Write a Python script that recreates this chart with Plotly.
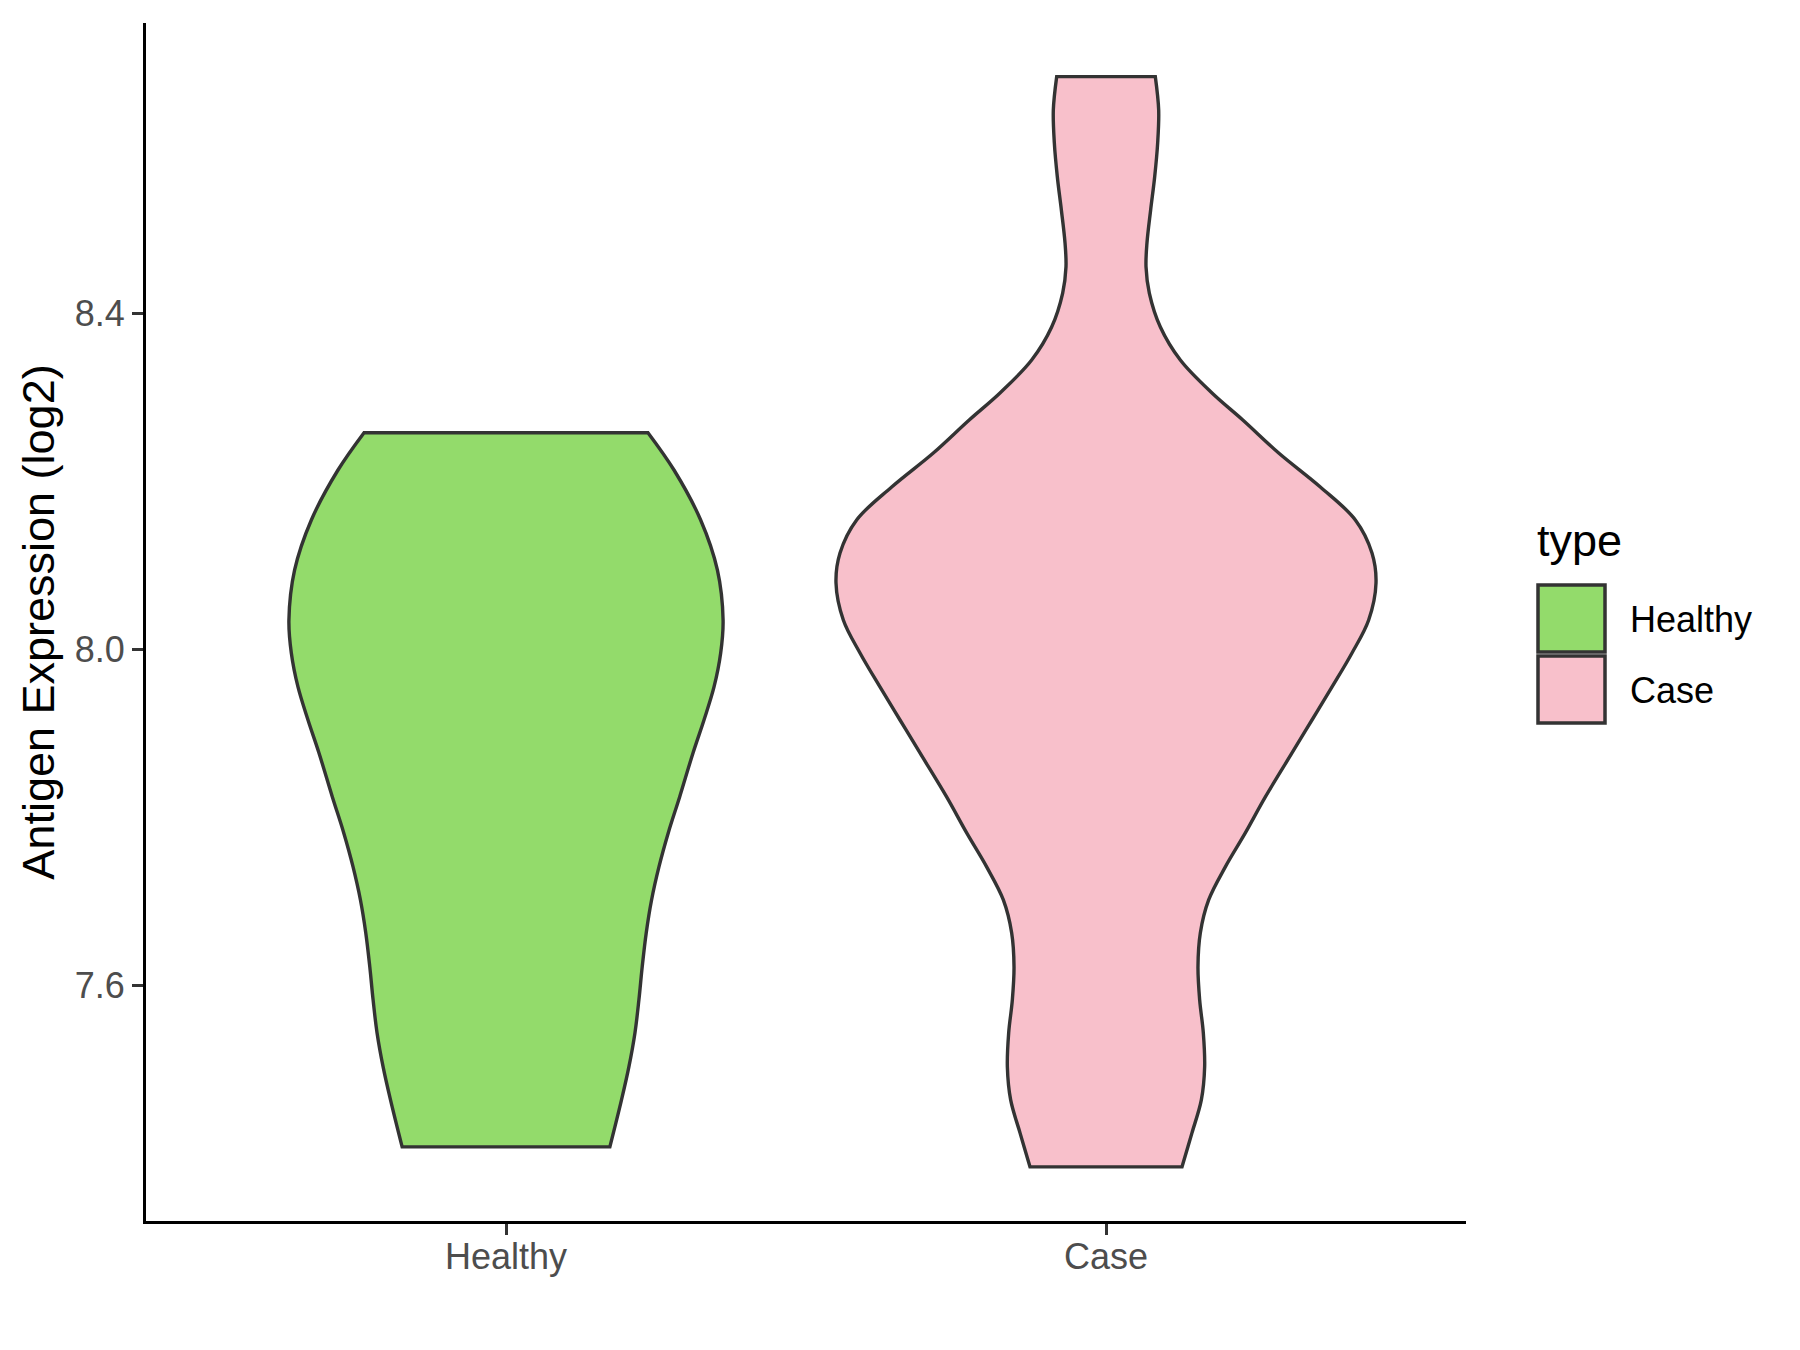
import plotly.graph_objects as go

# ---- data ----
categories = ["Healthy", "Case"]
positions = [1, 2]
fill_colors = ["#93DB6B", "#F8C0CB"]

# Healthy violin: expression level (log2) and half-width of the density outline
healthy_y = [7.4083, 7.4642, 7.5034, 7.5439, 7.5831, 7.6224, 7.6628, 7.7020, 7.7413, 7.7817,
             7.8245, 7.8768, 7.9160, 7.9553, 7.9957, 8.0350, 8.0944, 8.1539, 8.2133, 8.2577]
healthy_w = [0.1731, 0.1925, 0.2048, 0.2149, 0.2215, 0.2270, 0.2337, 0.2426, 0.2549, 0.2704,
             0.2894, 0.3117, 0.3300, 0.3467, 0.3578, 0.3618, 0.3523, 0.3244, 0.2800, 0.2366]

# Case violin
case_y = [7.3846, 7.4250, 7.4642, 7.5034, 7.5439, 7.5831, 7.6224, 7.6628, 7.7020, 7.7413,
          7.7817, 7.8245, 7.8768, 7.9160, 7.9553, 7.9957, 8.0350, 8.0790, 8.1146, 8.1539,
          8.1931, 8.2335, 8.2728, 8.3049, 8.3441, 8.3834, 8.4238, 8.4548, 8.4833, 8.5226,
          8.5618, 8.6022, 8.6415, 8.6811]
case_w = [0.1267, 0.1433, 0.1589, 0.1644, 0.1622, 0.1561, 0.1533, 0.1572, 0.1711, 0.1989,
          0.2322, 0.2656, 0.3100, 0.3433, 0.3767, 0.4100, 0.4378, 0.4500, 0.4433, 0.4156,
          0.3572, 0.2878, 0.2280, 0.1767, 0.1239, 0.0906, 0.0722, 0.0667, 0.0683, 0.0744,
          0.0811, 0.0861, 0.0878, 0.0822]

y_ticks = [7.6, 8.0, 8.4]
y_tick_labels = ["7.6", "8.0", "8.4"]
y_title = "Antigen Expression (log2)"
legend_title = "type"

FONT = "Liberation Sans, Arial, sans-serif"
OUTLINE = "#333333"

fig = go.Figure()

profiles = [(healthy_y, healthy_w), (case_y, case_w)]
for name, pos, col, (ys, ws) in zip(categories, positions, fill_colors, profiles):
    left = [(pos - w, y) for w, y in zip(ws, ys)]            # bottom -> top
    right = [(pos + w, y) for w, y in zip(ws, ys)][::-1]     # top -> bottom
    # repeat the corner points so the spline keeps the flat ends sharp
    outline = ([left[0]] + left + [left[-1]] + [right[0]] + right + [right[-1]] + [left[0]])
    fig.add_trace(go.Scatter(
        x=[p[0] for p in outline], y=[p[1] for p in outline],
        mode="lines", fill="toself", fillcolor=col,
        line=dict(color=OUTLINE, width=3.4, shape="spline", smoothing=1.0, simplify=False),
        name=name, showlegend=False, hoverinfo="skip",
    ))

# the page body adds an 8px offset; target pixel positions are those of the reference
OFF = 8
L, R, T, B = 146 - OFF, 1466 - OFF, 23 - OFF, 1221 - OFF
W, H = R - L, B - T
def px(x):
    return (x - OFF - L) / W
def py(y):
    return (B - (y - OFF)) / H

# manual ggplot-style legend
fig.add_annotation(x=px(1535), y=py(540), xref="paper", yref="paper", text=legend_title,
                   showarrow=False, xanchor="left", yanchor="middle",
                   font=dict(family=FONT, size=45, color="black"))
key_tops = [585, 656]
for name, col, top in zip(categories, fill_colors, key_tops):
    fig.add_shape(type="rect", xref="paper", yref="paper",
                  x0=px(1538), x1=px(1605), y0=py(top + 67), y1=py(top),
                  fillcolor=col, line=dict(color=OUTLINE, width=3.5))
    fig.add_annotation(x=px(1628), y=py(top + 34), xref="paper", yref="paper", text=name,
                       showarrow=False, xanchor="left", yanchor="middle",
                       font=dict(family=FONT, size=36, color="black"))

fig.update_layout(
    width=1800, height=1350,
    margin=dict(l=L, r=1800 - R, t=T, b=1350 - B, autoexpand=False),
    paper_bgcolor="white", plot_bgcolor="white",
    font=dict(family=FONT),
    showlegend=False,
)
fig.update_xaxes(
    range=[0.4, 2.6], tickvals=positions, ticktext=categories,
    showgrid=False, zeroline=False, showline=True, linecolor="black", linewidth=3.2,
    ticks="outside", ticklen=11, tickwidth=3, tickcolor=OUTLINE,
    tickfont=dict(family=FONT, size=36, color="#4D4D4D"),
    ticklabelstandoff=-9,
)
fig.update_yaxes(
    range=[7.3202, 8.7449], tickvals=y_ticks, ticktext=y_tick_labels,
    showgrid=False, zeroline=False, showline=True, linecolor="black", linewidth=3.2,
    ticks="outside", ticklen=11, tickwidth=3, tickcolor=OUTLINE,
    tickfont=dict(family=FONT, size=36, color="#4D4D4D"),
    title=dict(text=y_title, font=dict(family=FONT, size=45, color="black"), standoff=6),
)

fig.write_html("out.html")
